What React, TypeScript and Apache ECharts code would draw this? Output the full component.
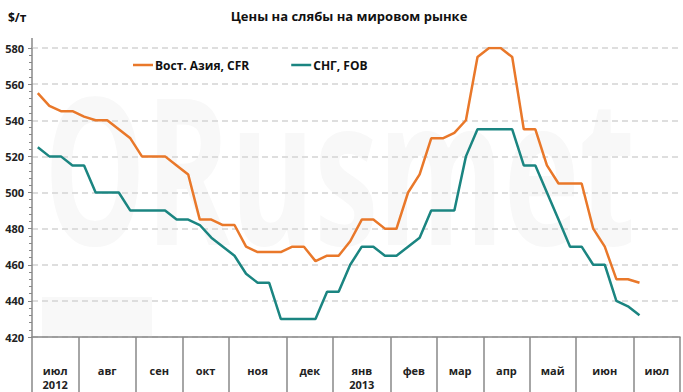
import React, { useEffect, useRef } from "react";
import * as echarts from "echarts";

const monthNames = ["июл\n2012", "авг", "сен", "окт", "ноя", "дек", "янв\n2013", "фев", "мар", "апр", "май", "июн", "июл"];
const weeksPerMonth = [4, 5, 4, 4, 5, 4, 5, 4, 4, 4, 4, 5, 4];

const eastAsiaCFR = [
  555, 548, 545, 545, 542, 540, 540, 535, 530, 520, 520, 520, 515, 510,
  485, 485, 482, 482, 470, 467, 467, 467, 470, 470, 462, 465, 465, 473,
  485, 485, 480, 480, 500, 510, 530, 530, 533, 540, 575, 580, 580, 575,
  535, 535, 515, 505, 505, 505, 480, 470, 452, 452, 450,
];
const cisFOB = [
  525, 520, 520, 515, 515, 500, 500, 500, 490, 490, 490, 490, 485, 485,
  482, 475, 470, 465, 455, 450, 450, 430, 430, 430, 430, 445, 445, 460,
  470, 470, 465, 465, 470, 475, 490, 490, 490, 520, 535, 535, 535, 535,
  515, 515, 500, 485, 470, 470, 460, 460, 440, 437, 432,
];
const seriesNames = ["Вост. Азия, CFR", "СНГ, FOB"];

export default function App() {
  const ref = useRef<HTMLDivElement>(null);
  useEffect(() => {
    if (!ref.current) return;
    const chart = echarts.init(ref.current, undefined, { renderer: "svg" });

    const weeks: string[] = [];
    const boundaries: number[] = [];
    const centers: Record<string, string> = {};
    let start = 0;
    weeksPerMonth.forEach((n, m) => {
      boundaries.push(start);
      for (let k = 0; k < n; k++) weeks.push(monthNames[m].split("\n")[0] + "-" + (k + 1) + "-" + m);
      centers[String(start + n / 2)] = monthNames[m];
      start += n;
    });
    boundaries.push(start);
    const total = start;

    const font = "'Open Sans', 'Noto Sans', sans-serif";
    const pad = (arr: number[]) => arr.concat(new Array(total - arr.length).fill(null));

    chart.setOption({
      animation: false,
      backgroundColor: "#ffffff",
      textStyle: { fontFamily: font },
      grid: { left: 32, right: 0, top: 48, bottom: 55, containLabel: false },
      legend: {
        left: 133,
        top: 59,
        icon: "rect",
        itemWidth: 20,
        itemHeight: 2.5,
        itemGap: 42,
        padding: 0,
        textStyle: { fontFamily: font, fontWeight: "bold", fontSize: 12, color: "#111", padding: [0, 0, 0, -3] },
        data: seriesNames,
      },
      xAxis: [
        {
          type: "category",
          data: weeks,
          boundaryGap: true,
          axisLine: { lineStyle: { color: "#888", width: 1.5 } },
          axisTick: {
            show: true,
            length: 55,
            interval: (i: number) => boundaries.includes(i),
            lineStyle: { color: "#888", width: 1.5 },
          },
          axisLabel: { show: false },
          splitLine: { show: false },
        },
        {
          type: "value",
          min: 0,
          max: total,
          interval: 0.5,
          position: "bottom",
          axisLine: { show: false },
          axisTick: { show: false },
          splitLine: { show: false },
          axisLabel: {
            margin: 26,
            fontFamily: font,
            fontWeight: "bold",
            fontSize: 11,
            lineHeight: 14,
            color: "#222",
            verticalAlign: "top",
            formatter: (v: number) => centers[String(v)] || "",
          },
        },
      ],
      yAxis: {
        type: "value",
        min: 420,
        max: 580,
        interval: 20,
        axisLine: { show: true, lineStyle: { color: "#888", width: 1.5 } },
        axisTick: { show: true, length: 4, lineStyle: { color: "#888" } },
        minorTick: { show: true, splitNumber: 5, length: 3, lineStyle: { color: "#888" } },
        axisLabel: { fontFamily: font, fontWeight: "bold", fontSize: 11, color: "#222", margin: 8 },
        splitLine: { lineStyle: { color: "#d4d4d4", width: 1.5, type: [6, 4] } },
      },
      series: [
        {
          name: seriesNames[0],
          type: "line",
          data: pad(eastAsiaCFR),
          symbol: "none",
          lineStyle: { color: "#E9782A", width: 2.5 },
          itemStyle: { color: "#E9782A" },
        },
        {
          name: seriesNames[1],
          type: "line",
          data: pad(cisFOB),
          symbol: "none",
          lineStyle: { color: "#1B8581", width: 2.5 },
          itemStyle: { color: "#1B8581" },
        },
      ],
      graphic: [
        {
          type: "text",
          z: -10,
          x: 44,
          y: 165,
          scaleY: 1.6,
          silent: true,
          style: {
            text: "ORusmet",
            font: "bold 128px 'Open Sans', sans-serif",
            fill: "#f8f8f8",
            textVerticalAlign: "middle",
          },
        },
        { type: "rect", z: -10, silent: true, shape: { x: 42, y: 297, width: 110, height: 39 }, style: { fill: "#f8f8f8" } },
        { type: "line", shape: { x1: 32, y1: 38, x2: 32, y2: 48 }, style: { stroke: "#888", lineWidth: 1.5 } },
        {
          type: "text",
          x: 349,
          y: 16,
          style: {
            text: "Цены на слябы на мировом рынке",
            font: `bold 13px ${font}`,
            fill: "#111",
            textAlign: "center",
            textVerticalAlign: "middle",
          },
        },
        {
          type: "text",
          x: 8,
          y: 17,
          style: { text: "$/т", font: `bold 12px ${font}`, fill: "#111", textVerticalAlign: "middle" },
        },
      ],
    });
    return () => chart.dispose();
  }, []);
  return (
    <div
      ref={ref}
      style={{ position: "absolute", left: 0, top: 0, width: 683, height: 392, background: "#fff" }}
    />
  );
}
